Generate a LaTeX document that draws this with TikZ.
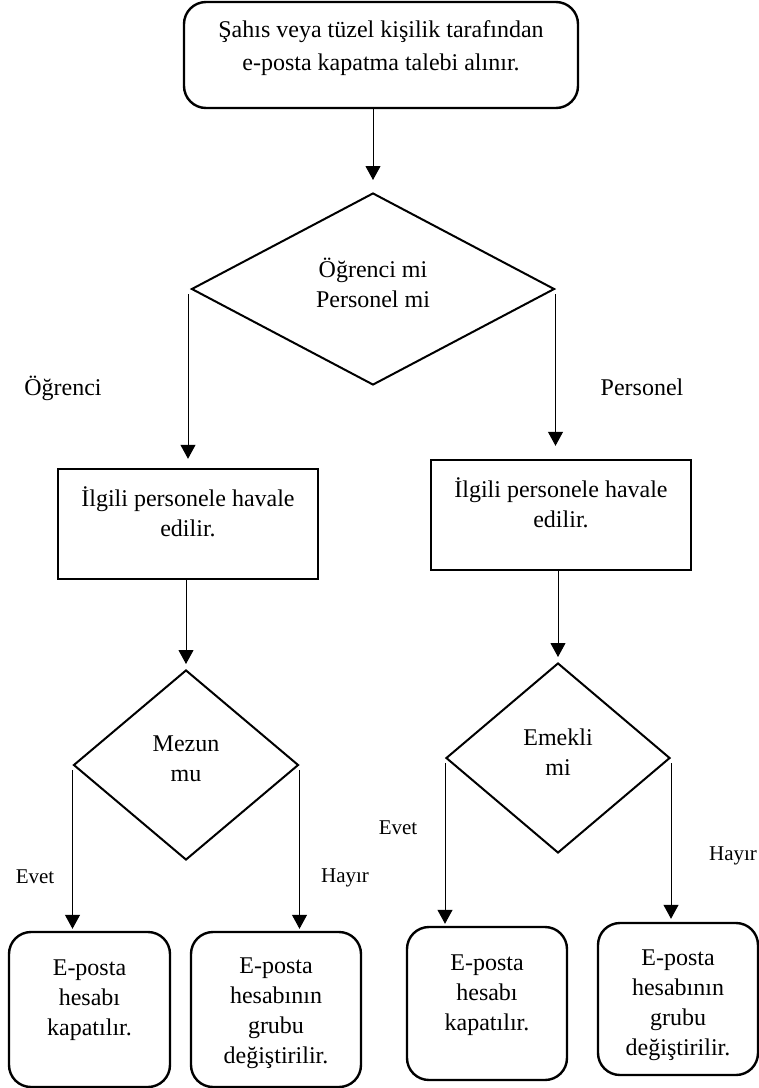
\documentclass[tikz,border=0pt]{standalone}
\usepackage{fontspec}
\setmainfont{Liberation Serif}
\usetikzlibrary{positioning,shapes.geometric,arrows.meta}
\newcommand{\boxtext}[4]{\parbox[c][#1][t]{#2}{\centering\vspace*{#3}\strut #4}}
\newcommand{\liftup}{\rule[-6pt]{0pt}{0pt}}
\tikzset{
	roundbox/.style={draw, line width=1.2pt, rounded corners=11pt, inner sep=0pt, font=\fontsize{12}{15}\selectfont},
	squarebox/.style={draw, line width=1.2pt, inner sep=0pt, font=\fontsize{12}{15}\selectfont},
	decision/.style={draw, diamond, line width=1pt, inner sep=0pt, align=center, font=\fontsize{12}{15}\selectfont},
	branch/.style={font=\fontsize{12}{15}\selectfont},
	answer/.style={font=\fontsize{10.5}{13}\selectfont},
	flow/.style={-{Triangle[length=7pt,width=7.5pt]}, line width=0.5pt},
}
\begin{document}
\begin{tikzpicture}[x=0.5pt, y=-0.5pt]
				\useasboundingbox (0,0) rectangle (759,1088);
				\node[roundbox, font=\fontsize{12}{16.5}\selectfont] (talep) at (381,55) {\boxtext{53pt}{197pt}{6pt}{Şahıs veya tüzel kişilik tarafından\\e-posta kapatma talebi alınır.}};
				\node[decision, minimum width=181.5pt, minimum height=96pt] (kim) at (373,289) {Öğrenci mi\\Personel mi\liftup};
				\node[branch] (ogrenci) at (63,388) {Öğrenci};
				\node[branch] (personel) at (642,387) {Personel};
				\node[squarebox] (havale1) at (188,524) {\boxtext{55pt}{130pt}{8pt}{İlgili personele havale\\edilir.}};
				\node[squarebox] (havale2) at (561,515) {\boxtext{55pt}{130pt}{8pt}{İlgili personele havale\\edilir.}};
				\node[decision, minimum width=112.5pt, minimum height=95pt] (mezun) at (186,765) {Mezun\\mu\liftup};
				\node[decision, minimum width=112pt, minimum height=95pt] (emekli) at (558,758) {Emekli\\mi\liftup};
				\node[answer] (evet1) at (35,877) {Evet};
				\node[answer] (hayir1) at (345,878) {Hayır};
				\node[answer] (evet2) at (398,828) {Evet};
				\node[answer] (hayir2) at (733,856) {Hayır};
				\node[roundbox] (kapat1) at (89.5,1009.5) {\boxtext{77.5pt}{80.5pt}{11pt}{E-posta\\hesabı\\kapatılır.}};
				\node[roundbox] (grup1) at (276,1009.5) {\boxtext{77.5pt}{85pt}{10pt}{E-posta\\hesabının\\grubu\\değiştirilir.}};
				\node[roundbox] (kapat2) at (487,1003.5) {\boxtext{76.5pt}{80pt}{11pt}{E-posta\\hesabı\\kapatılır.}};
				\node[roundbox] (grup2) at (678,999) {\boxtext{76pt}{80pt}{10.5pt}{E-posta\\hesabının\\grubu\\değiştirilir.}};
				\draw[flow, shorten >=6pt] (talep.south -| kim.north) -- (kim.north);
				\draw[flow, shorten <=2.5pt, shorten >=4.5pt] (kim.west -| havale1.north) -- (havale1.north);
				\draw[flow, shorten <=2.5pt, shorten >=6.5pt] (kim.east) -- (kim.east |- havale2.north);
				\draw[flow, shorten >=2.5pt] (havale1.south -| mezun.north) -- (mezun.north);
				\draw[flow, shorten >=2.5pt] (havale2.south -| emekli.north) -- (emekli.north);
				\draw[flow, shorten <=2.5pt, shorten >=1pt] (mezun.west) -- (mezun.west |- kapat1.north);
				\draw[flow, shorten <=2.5pt, shorten >=1pt] (mezun.east) -- (mezun.east |- grup1.north);
				\draw[flow, shorten <=2.5pt, shorten >=1pt] (emekli.west) -- (emekli.west |- kapat2.north);
				\draw[flow, shorten <=2.5pt, shorten >=1.5pt] (emekli.east) -- (emekli.east |- grup2.north);
\end{tikzpicture}
\end{document}
